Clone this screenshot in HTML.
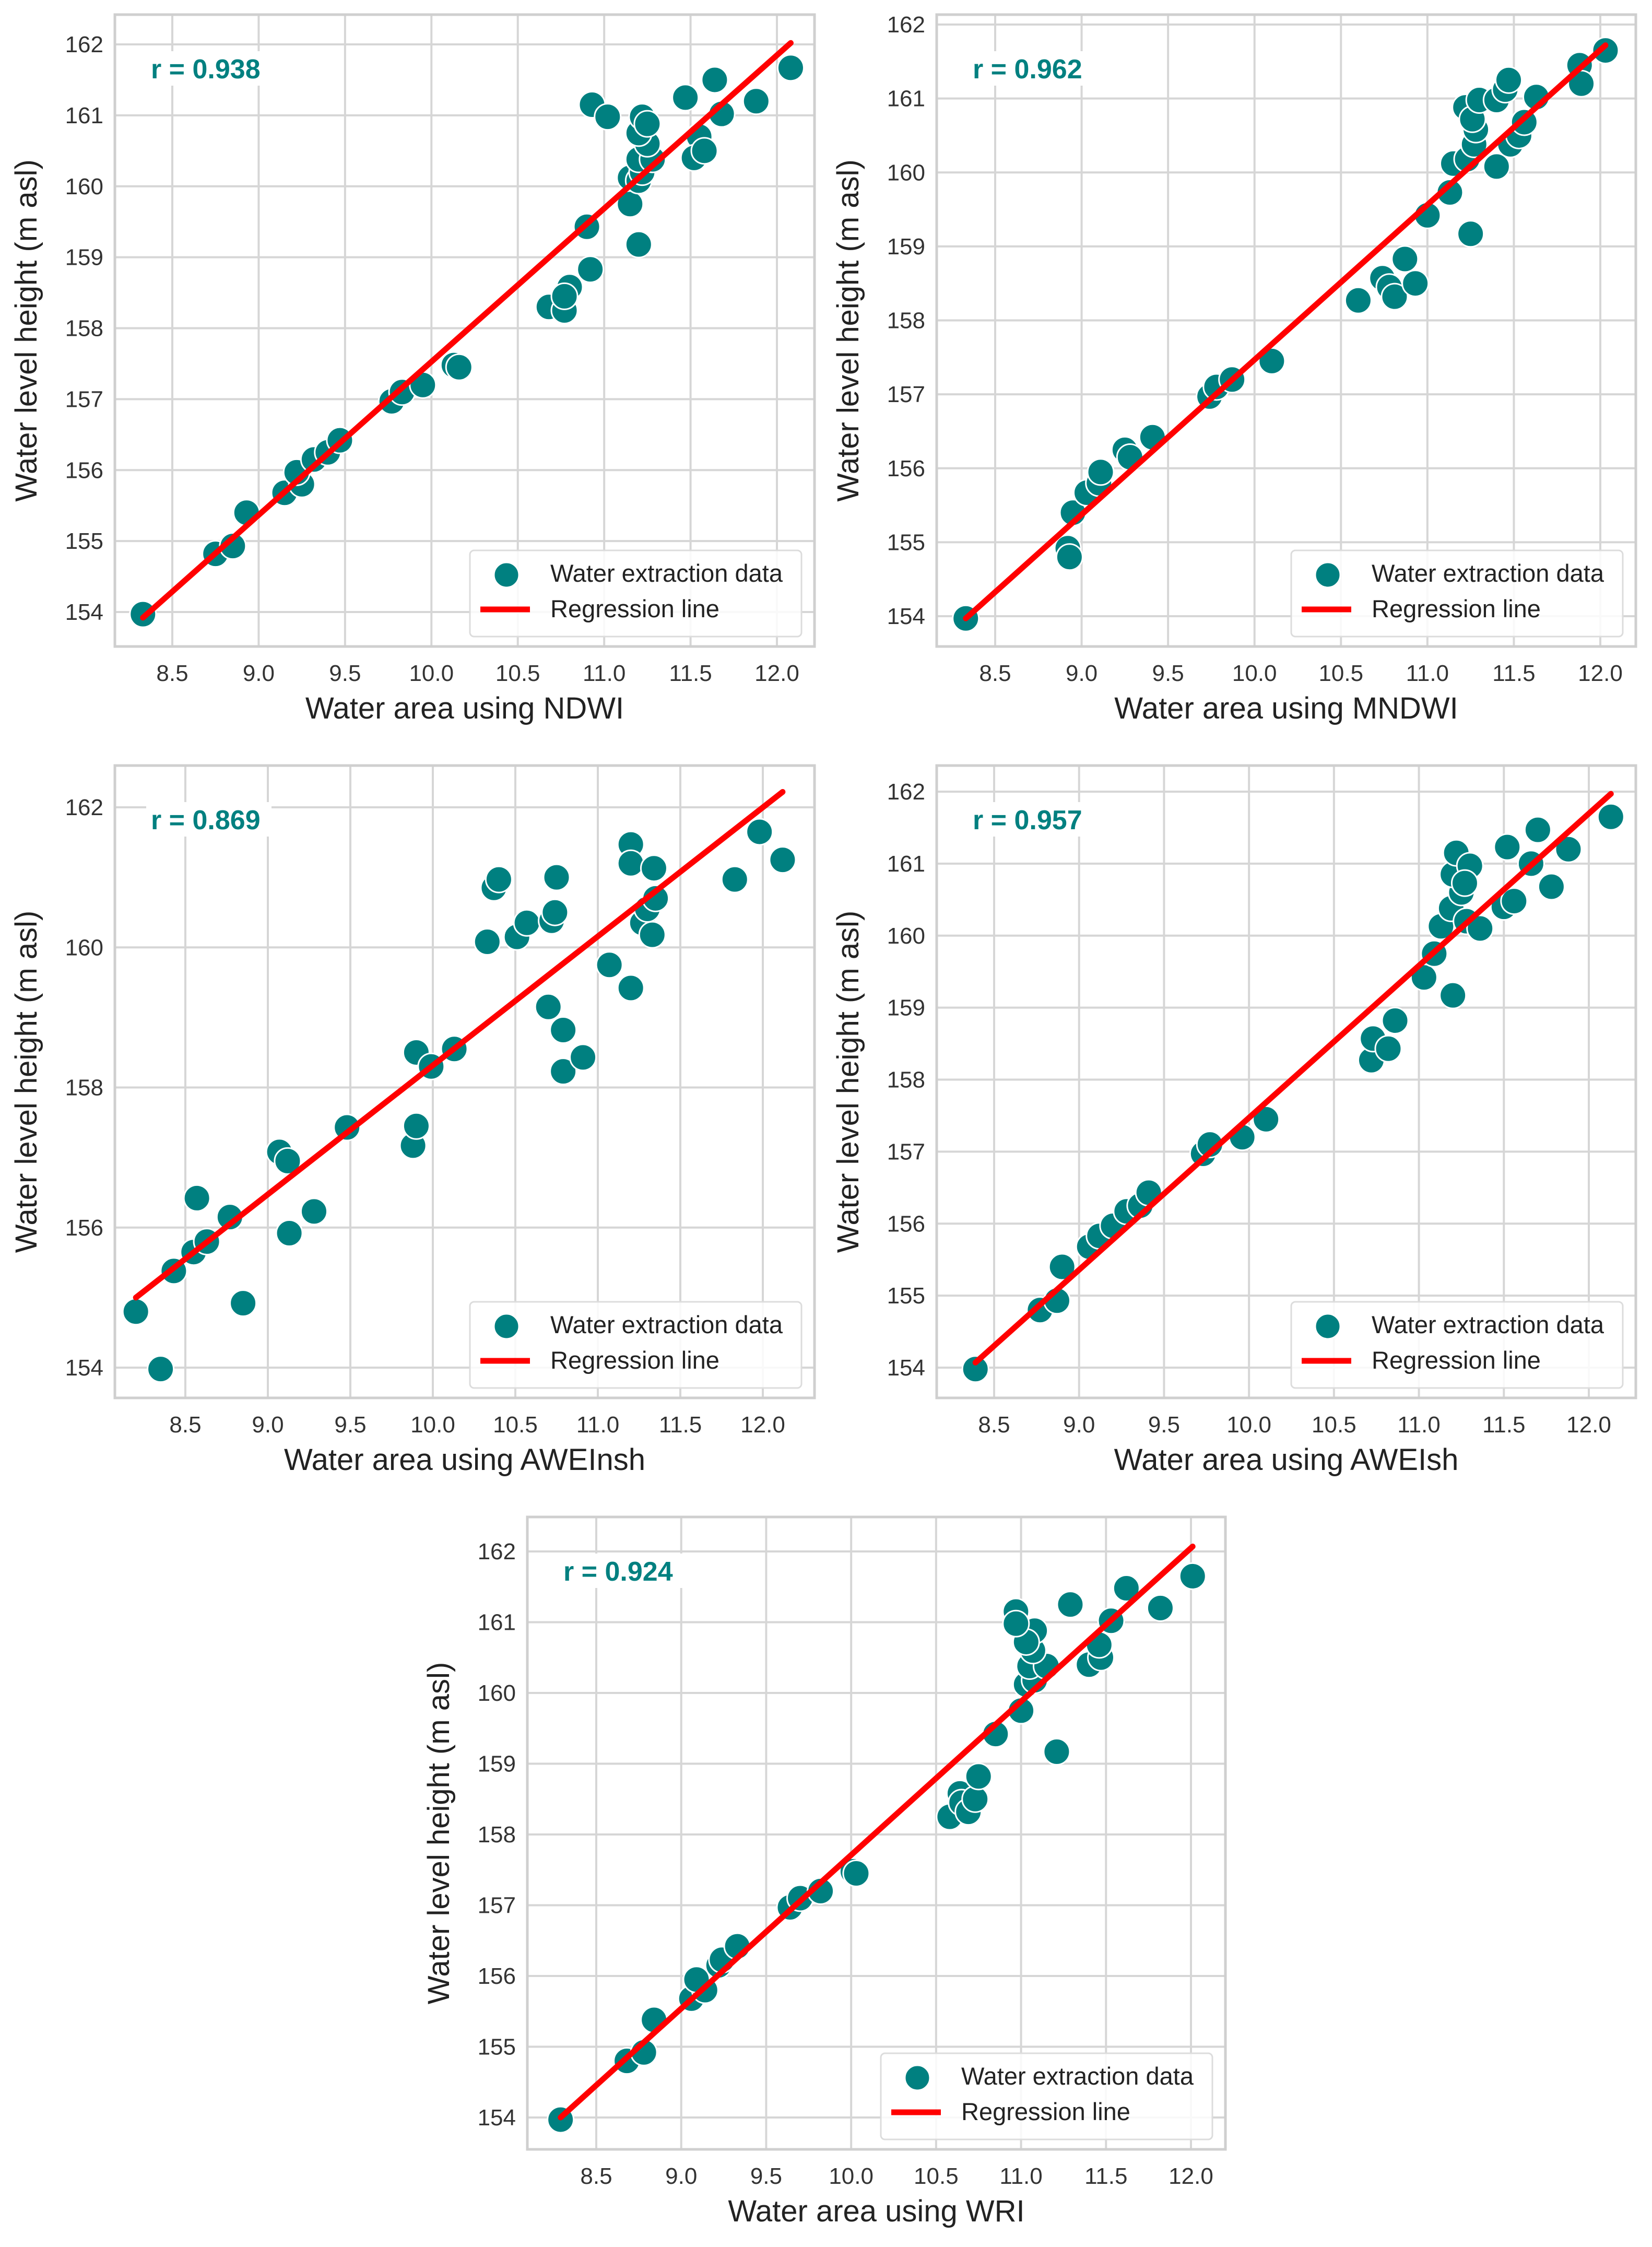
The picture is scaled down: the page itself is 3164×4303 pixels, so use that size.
<!DOCTYPE html>
<html><head><meta charset="utf-8"><style>
html,body{margin:0;padding:0;background:#fff;}
svg{display:block;}
text{font-family:"Liberation Sans",Arial,sans-serif;}
</style></head><body>
<svg id="fig" width="3164" height="4303" viewBox="0 0 3164 4303" xmlns="http://www.w3.org/2000/svg"></svg>
<script>
// ---- data ----
const xTicks = [8.5, 9.0, 9.5, 10.0, 10.5, 11.0, 11.5, 12.0];
const yTicksFine = [154, 155, 156, 157, 158, 159, 160, 161, 162];
const yTicksCoarse = [154, 156, 158, 160, 162];
const panelNames = ["NDWI", "MNDWI", "AWEInsh", "AWEIsh", "WRI"];
const rValues = ["0.938", "0.962", "0.869", "0.957", "0.924"];

const ndwiX = [8.33,8.75,8.85,8.93,9.15,9.25,9.22,9.32,9.4,9.47,9.77,9.83,9.95,10.13,10.16,10.68,10.77,10.8,10.77,10.92,10.9,11.15,11.2,11.15,11.2,11.22,11.2,11.28,11.25,11.2,11.22,11.25,10.93,11.02,11.47,11.64,11.68,11.55,11.52,11.58,11.88,12.08];
const ndwiY = [153.97,154.82,154.93,155.4,155.68,155.8,155.97,156.15,156.25,156.42,156.97,157.1,157.2,157.48,157.45,158.3,158.25,158.58,158.45,158.83,159.43,159.75,159.18,160.12,160.08,160.2,160.38,160.38,160.6,160.75,160.98,160.88,161.15,160.98,161.25,161.5,161.02,160.7,160.4,160.5,161.2,161.67];
const ndwiLine = [[8.33,153.92],[12.08,162.02]];

const mndwiX = [8.33,8.92,8.93,8.95,9.03,9.1,9.11,9.25,9.28,9.41,9.74,9.78,9.87,10.1,10.6,10.74,10.78,10.81,10.87,10.93,11.0,11.13,11.25,11.15,11.23,11.27,11.28,11.22,11.26,11.3,11.4,11.45,11.47,11.4,11.48,11.53,11.56,11.63,11.88,11.89,12.03];
const mndwiY = [153.97,154.92,154.8,155.4,155.67,155.8,155.95,156.25,156.15,156.42,156.97,157.1,157.2,157.45,158.27,158.57,158.45,158.32,158.83,158.5,159.42,159.73,159.17,160.12,160.18,160.38,160.58,160.88,160.72,160.98,160.98,161.12,161.25,160.08,160.38,160.5,160.68,161.02,161.45,161.2,161.65];
const mndwiLine = [[8.33,153.97],[12.03,161.72]];

const aweinshX = [8.2,8.35,8.43,8.55,8.57,8.63,8.77,8.85,9.07,9.12,9.13,9.28,9.48,9.88,9.9,9.9,9.99,10.13,10.33,10.37,10.4,10.51,10.57,10.7,10.72,10.74,10.75,10.79,10.79,10.91,11.07,11.2,11.2,11.2,11.27,11.3,11.33,11.34,11.35,11.83,11.98,12.12];
const aweinshY = [154.8,153.98,155.38,155.65,156.42,155.8,156.15,154.92,157.08,156.95,155.92,156.23,157.43,157.17,157.45,158.5,158.3,158.55,160.08,160.85,160.97,160.15,160.35,159.15,160.38,160.5,161.0,158.82,158.23,158.43,159.75,159.42,161.47,161.2,160.35,160.55,160.18,161.13,160.7,160.97,161.65,161.25];
const aweinshLine = [[8.2,155.0],[12.12,162.22]];

const aweishX = [8.39,8.77,8.87,8.9,9.06,9.12,9.2,9.28,9.36,9.41,9.73,9.77,9.96,10.1,10.72,10.73,10.82,10.86,11.03,11.09,11.2,11.13,11.19,11.25,11.28,11.36,11.2,11.22,11.3,11.27,11.5,11.52,11.56,11.66,11.7,11.78,11.88,12.13];
const aweishY = [153.98,154.8,154.93,155.4,155.68,155.83,155.97,156.17,156.25,156.43,156.97,157.1,157.2,157.45,158.27,158.57,158.43,158.82,159.42,159.75,159.17,160.13,160.38,160.6,160.2,160.1,160.85,161.15,160.97,160.73,160.4,161.23,160.48,161.0,161.47,160.68,161.2,161.65];
const aweishLine = [[8.39,154.07],[12.13,161.97]];

const wriX = [8.29,8.68,8.78,8.84,9.06,9.14,9.09,9.22,9.24,9.33,9.64,9.7,9.82,10.01,10.03,10.58,10.64,10.65,10.69,10.73,10.75,10.85,11.0,11.21,11.03,11.08,11.05,11.15,11.07,11.08,11.03,10.97,10.97,11.29,11.4,11.47,11.46,11.53,11.62,11.82,12.01];
const wriY = [153.97,154.8,154.92,155.38,155.68,155.8,155.95,156.15,156.23,156.42,156.97,157.1,157.2,157.48,157.45,158.25,158.58,158.45,158.32,158.5,158.82,159.42,159.75,159.17,160.12,160.18,160.38,160.38,160.6,160.88,160.72,161.15,160.98,161.25,160.4,160.5,160.68,161.02,161.48,161.2,161.65];
const wriLine = [[8.29,154.0],[12.01,162.07]];

// ---- layout (pixels) ----
const layouts = [
 {L:220,R:1560,T:28,B:1238,x0:330,x1:1488,y0:1172,y1:85},
 {L:1794,R:3133,T:28,B:1238,x0:1906,x1:3065,y0:1180,y1:47},
 {L:220,R:1560,T:1466,B:2677,x0:355,x1:1461,y0:2619,y1:1546},
 {L:1794,R:3133,T:1466,B:2677,x0:1904,x1:3043,y0:2619,y1:1516},
 {L:1010,R:2347,T:2905,B:4116,x0:1142,x1:2281,y0:4055,y1:2971}
];
const xsData = [ndwiX, mndwiX, aweinshX, aweishX, wriX];
const ysData = [ndwiY, mndwiY, aweinshY, aweishY, wriY];
const linesData = [ndwiLine, mndwiLine, aweinshLine, aweishLine, wriLine];
const yTickSets = [yTicksFine, yTicksFine, yTicksCoarse, yTicksFine, yTicksFine];

const NS = "http://www.w3.org/2000/svg";
const svg = document.getElementById("fig");
function mk(tag, attrs, parent) {
  const e = document.createElementNS(NS, tag);
  for (const k in attrs) e.setAttribute(k, attrs[k]);
  (parent || svg).appendChild(e);
  return e;
}

for (let p = 0; p < 5; p++) {
  const g = layouts[p];
  const sx = v => g.x0 + (v - 8.5) / (12.0 - 8.5) * (g.x1 - g.x0);
  const sy = v => g.y0 + (v - 154) / (162 - 154) * (g.y1 - g.y0);
  const grp = mk("g", {});
  
  

  const cp = mk("clipPath", {id: "clip" + p}, grp);
  mk("rect", {x: g.L, y: g.T, width: g.R - g.L, height: g.B - g.T}, cp);

  xTicks.forEach(t => {
    const l = mk("line", {x1: sx(t), x2: sx(t), y1: g.T, y2: g.B, stroke: "#d6d6d6", "stroke-width": 4}, grp);
    
    
    const tx = mk("text", {x: sx(t), y: g.B + 66, "font-size": 44, fill: "#333", "text-anchor": "middle"}, grp);
    tx.textContent = t.toFixed(1);
    
    
  });
  yTickSets[p].forEach(t => {
    const l = mk("line", {x1: g.L, x2: g.R, y1: sy(t), y2: sy(t), stroke: "#d6d6d6", "stroke-width": 4}, grp);
    
    
    const tx = mk("text", {x: g.L - 22, y: sy(t) + 15, "font-size": 44, fill: "#333", "text-anchor": "end"}, grp);
    tx.textContent = String(t);
    
    
  });
  const frame = mk("rect", {x: g.L, y: g.T, width: g.R - g.L, height: g.B - g.T, fill: "none", stroke: "#cfcfcf", "stroke-width": 5}, grp);
  
  

  const pts = mk("g", {"clip-path": "url(#clip" + p + ")"}, grp);
  const xs = xsData[p], ys = ysData[p];
  for (let i = 0; i < xs.length; i++) {
    const c = mk("circle", {cx: sx(xs[i]), cy: sy(ys[i]), r: 25, fill: "#008080", stroke: "#fff", "stroke-width": 3}, pts);
    
    
  }
  const ln = linesData[p];
  const rl = mk("line", {x1: sx(ln[0][0]), y1: sy(ln[0][1]), x2: sx(ln[1][0]), y2: sy(ln[1][1]), stroke: "#ff0000", "stroke-width": 11, "stroke-linecap": "round"}, grp);
  
  

  const rbg = mk("rect", {x: g.L + 60, y: g.T + 70, width: 240, height: 66, fill: "#fff"}, grp);
  
  
  const rt = mk("text", {x: g.L + 69, y: g.T + 122, "font-size": 52, "font-weight": "bold", fill: "#008080"}, grp);
  rt.textContent = "r = " + rValues[p];
  
  

  const lx = g.R - 660, ly = g.B - 184;
  const lg = mk("g", {}, grp);
  
  
  mk("rect", {x: lx, y: ly, width: 635, height: 165, rx: 8, fill: "#fff", "fill-opacity": 0.85, stroke: "#dcdcdc", "stroke-width": 3}, lg);
  const lm = mk("circle", {cx: lx + 70, cy: ly + 47, r: 24, fill: "#008080", stroke: "#fff", "stroke-width": 3}, lg);
  
  
  const t1 = mk("text", {x: lx + 154, y: ly + 60, "font-size": 47, fill: "#222"}, lg);
  t1.textContent = "Water extraction data";
  
  
  const ll = mk("line", {x1: lx + 20, x2: lx + 115, y1: ly + 113, y2: ly + 113, stroke: "#ff0000", "stroke-width": 11}, lg);
  
  
  const t2 = mk("text", {x: lx + 154, y: ly + 128, "font-size": 47, fill: "#222"}, lg);
  t2.textContent = "Regression line";
  
  

  const xt = mk("text", {x: (g.L + g.R) / 2, y: g.B + 138, "font-size": 58, fill: "#222", "text-anchor": "middle"}, grp);
  xt.textContent = "Water area using " + panelNames[p];
  
  
  const cy = (g.T + g.B) / 2, cx = g.L - 150;
  const yt = mk("text", {x: cx, y: cy, "font-size": 58, fill: "#222", "text-anchor": "middle", transform: "rotate(-90 " + cx + " " + cy + ")"}, grp);
  yt.textContent = "Water level height (m asl)";
  
  
}
</script>
</body></html>
